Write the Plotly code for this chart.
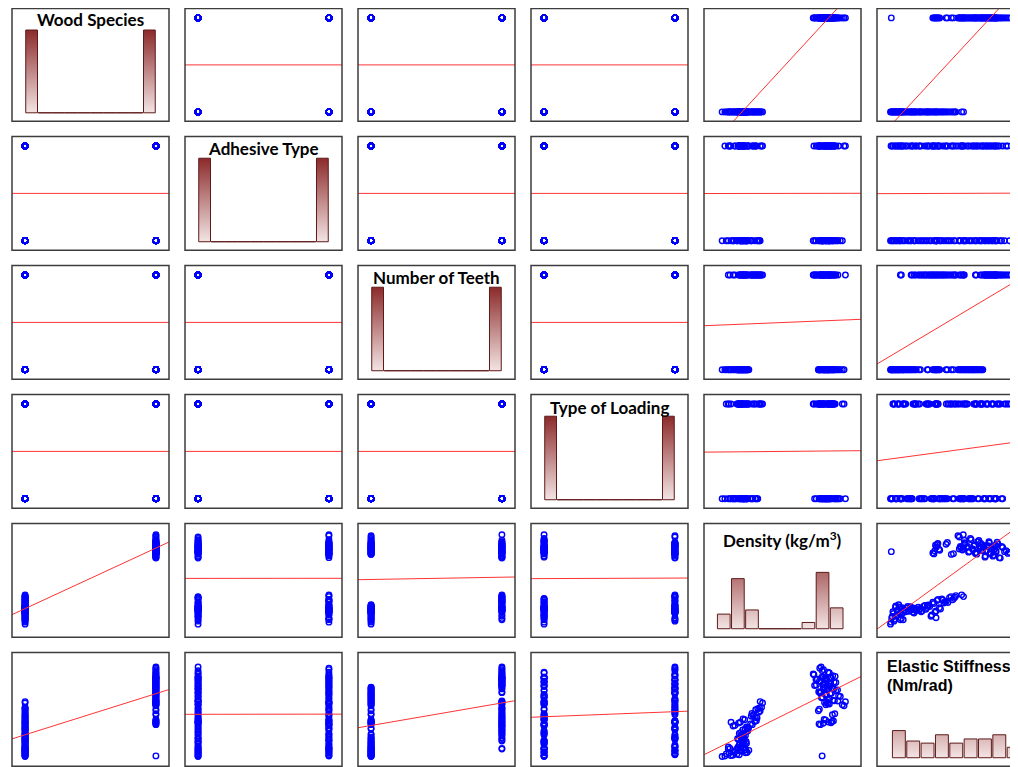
import numpy as np
import plotly.graph_objects as go

# ---------------- data ----------------
labels = ["Wood Species", "Adhesive Type", "Number of Teeth", "Type of Loading",
          "Density (kg/m<sup>3</sup>)", "Elastic Stiffness"]

wood_species = [0, 0, 0, 0, 0, 0, 0, 0, 0, 0, 0, 0, 0, 0, 0, 0, 0, 0, 0, 0,
                0, 0, 0, 0, 0, 0, 0, 0, 0, 0, 0, 0, 0, 0, 0, 0, 0, 0, 0, 0,
                1, 1, 1, 1, 1, 1, 1, 1, 1, 1, 1, 1, 1, 1, 1, 1, 1, 1, 1, 1,
                1, 1, 1, 1, 1, 1, 1, 1, 1, 1, 1, 1, 1, 1, 1, 1, 1, 1, 1, 1,
                0, 0, 0, 0, 0, 0, 0, 0, 0, 0, 0, 0, 0, 0, 0, 0, 0, 0, 0, 0,
                0, 0, 0, 0, 0, 0, 0, 0, 0, 0, 0, 0, 0, 0, 0, 0, 0, 0, 0, 0,
                1, 1, 1, 1, 1, 1, 1, 1, 1, 1, 1, 1, 1, 1, 1, 1, 1, 1, 1, 1,
                1, 1, 1, 1, 1, 1, 1, 1, 1, 1, 1, 1, 1, 1, 1, 1, 1, 1, 1, 1]

adhesive_type = [0, 1, 1, 0, 1, 0, 0, 1, 0, 1, 1, 0, 1, 0, 0, 1, 0, 1, 1, 0,
                 0, 1, 1, 0, 1, 0, 0, 1, 0, 1, 1, 0, 1, 0, 0, 1, 0, 1, 1, 0,
                 0, 1, 1, 0, 1, 0, 0, 1, 0, 1, 1, 0, 1, 0, 0, 1, 0, 1, 1, 0,
                 0, 1, 1, 0, 1, 0, 0, 1, 0, 1, 1, 0, 1, 0, 0, 1, 0, 1, 1, 0,
                 1, 0, 0, 1, 0, 1, 1, 0, 1, 0, 0, 1, 0, 1, 1, 0, 1, 0, 0, 1,
                 1, 0, 0, 1, 0, 1, 1, 0, 1, 0, 0, 1, 0, 1, 1, 0, 1, 0, 0, 1,
                 1, 0, 0, 1, 0, 1, 1, 0, 1, 0, 0, 1, 0, 1, 1, 0, 1, 0, 0, 1,
                 1, 0, 0, 1, 0, 1, 1, 0, 1, 0, 0, 1, 0, 1, 1, 0, 1, 0, 0, 1]

number_of_teeth = [0, 0, 0, 0, 0, 0, 0, 0, 0, 0, 0, 0, 0, 0, 0, 0, 0, 0, 0, 0,
                   1, 1, 1, 1, 1, 1, 1, 1, 1, 1, 1, 1, 1, 1, 1, 1, 1, 1, 1, 1,
                   0, 0, 0, 0, 0, 0, 0, 0, 0, 0, 0, 0, 0, 0, 0, 0, 0, 0, 0, 0,
                   1, 1, 1, 1, 1, 1, 1, 1, 1, 1, 1, 1, 1, 1, 1, 1, 1, 1, 1, 1,
                   0, 0, 0, 0, 0, 0, 0, 0, 0, 0, 0, 0, 0, 0, 0, 0, 0, 0, 0, 0,
                   1, 1, 1, 1, 1, 1, 1, 1, 1, 1, 1, 1, 1, 1, 1, 1, 1, 1, 1, 1,
                   0, 0, 0, 0, 0, 0, 0, 0, 0, 0, 0, 0, 0, 0, 0, 0, 0, 0, 0, 0,
                   1, 1, 1, 1, 1, 1, 1, 1, 1, 1, 1, 1, 1, 1, 1, 1, 1, 1, 1, 1]

type_of_loading = [0, 0, 1, 1, 0, 0, 1, 1, 0, 0, 1, 1, 0, 0, 0, 1, 1, 0, 1, 1,
                   0, 0, 1, 1, 0, 0, 1, 1, 0, 0, 1, 1, 0, 0, 0, 1, 1, 0, 1, 1,
                   0, 0, 1, 1, 0, 0, 1, 1, 0, 0, 1, 1, 0, 0, 0, 1, 1, 0, 1, 1,
                   0, 0, 1, 1, 0, 0, 1, 1, 0, 0, 1, 1, 0, 0, 0, 1, 1, 0, 1, 1,
                   0, 0, 1, 1, 0, 0, 1, 1, 0, 0, 1, 1, 0, 0, 0, 1, 1, 0, 1, 1,
                   0, 0, 1, 1, 0, 0, 1, 1, 0, 0, 1, 1, 0, 0, 0, 1, 1, 0, 1, 1,
                   0, 0, 1, 1, 0, 0, 1, 1, 0, 0, 1, 1, 0, 0, 0, 1, 1, 0, 1, 1,
                   0, 0, 1, 1, 0, 0, 1, 1, 0, 0, 1, 1, 0, 0, 0, 1, 1, 0, 1, 1]

density = [420, 445, 470, 432, 488, 455, 476, 498, 462, 481, 466, 478, 485, 472, 490, 468, 482, 476, 494, 446,
           438, 482, 475, 488, 470, 492, 480, 497, 452, 508, 468, 515, 486, 522, 505, 512, 527, 518, 535, 531,
           712, 703, 738, 741, 722, 742, 701, 776, 733, 719, 748, 728, 710, 765, 724, 735, 706, 752, 727, 716,
           723, 780, 705, 746, 731, 690, 714, 737, 752, 708, 726, 694, 719, 735, 711, 743, 686, 729, 716, 709,
           428, 451, 463, 440, 493, 458, 471, 489, 467, 486, 474, 470, 491, 479, 484, 465, 477, 483, 496, 438,
           443, 477, 484, 480, 474, 495, 487, 491, 457, 503, 473, 520, 481, 517, 510, 507, 531, 524, 529, 538,
           707, 715, 730, 745, 718, 749, 704, 771, 729, 725, 744, 733, 713, 760, 721, 739, 702, 757, 731, 720,
           728, 758, 709, 741, 736, 695, 717, 732, 747, 704, 721, 698, 724, 738, 715, 750, 688, 733, 712, 705]

stiffness = [1000, 1045, 1090, 1130, 1185, 1220, 1265, 1310, 1350, 1405, 1470, 1540, 1610, 1690, 1760, 1850, 1940, 2080, 2420, 2720,
             1373, 1820, 1950, 2050, 2160, 2260, 2340, 2450, 2530, 2600, 2680, 2760, 2850, 2940, 3020, 3110, 3230, 3350, 3470, 3760,
             1030, 2640, 2700, 2760, 2830, 3100, 3300, 3550, 3640, 3720, 3800, 3870, 3950, 4020, 4090, 4150, 4220, 4300, 4380, 4460,
             3600, 3750, 4210, 4400, 4520, 4570, 4610, 4660, 4720, 4770, 4820, 4870, 4920, 4960, 4990, 5060, 5150, 5240, 5370, 5500,
             1020, 1065, 1110, 1160, 1200, 1245, 1290, 1330, 1380, 1440, 1490, 1575, 1650, 1720, 1800, 1890, 1975, 2130, 2390, 1480,
             1410, 1780, 1900, 2100, 2200, 2300, 2380, 2480, 2560, 2640, 2720, 2800, 2890, 2970, 3060, 3170, 3290, 3400, 3440, 3690,
             2600, 2670, 2730, 2790, 2860, 3150, 3380, 3600, 3680, 3760, 3830, 3910, 3980, 4050, 4120, 4180, 4260, 4340, 4420, 4490,
             3650, 3790, 4240, 4450, 4540, 4590, 4640, 4690, 4740, 4790, 4840, 4890, 4940, 4975, 4985, 5030, 5110, 5200, 5310, 5440]

hist_bins = [10, 10, 10, 10, 9, 9]

variables = [np.array(v, dtype=float) for v in
             [wood_species, adhesive_type, number_of_teeth, type_of_loading, density, stiffness]]
binary = [True, True, True, True, False, False]

# ---------------- layout geometry (page body has an 8px margin) ----------------
W, H = 1010, 759
col_left = [4, 177, 350, 523, 696, 869]
cell_w = 157
row_top = [0.5, 128.5, 257.5, 386.5, 515.5, 644.5]
row_h = [112.8, 113.8, 113.8, 113.8, 113.8, 113.8]

scat_x_range = [[-0.1, 1.1]] * 4 + [[367, 825.5], [489, 5820]]
scat_y_range = [[-0.1, 1.1]] * 4 + [[367, 825.5], [507, 6229]]
diag_x_range = [[-0.1, 1.1]] * 4 + [[384, 829], [487.6, 5402]]
diag_y_range = [-8.2, 100.8]

fig = go.Figure()
layout = dict(width=W, height=H, margin=dict(l=0, r=0, t=0, b=0),
              paper_bgcolor="white", plot_bgcolor="white", showlegend=False)

shapes = []
annotations = []

for r in range(6):
    for c in range(6):
        n = r * 6 + c + 1
        xa = "x" if n == 1 else f"x{n}"
        ya = "y" if n == 1 else f"y{n}"
        xk = "xaxis" if n == 1 else f"xaxis{n}"
        yk = "yaxis" if n == 1 else f"yaxis{n}"
        x0 = col_left[c] / W
        x1 = min(col_left[c] + cell_w, W) / W
        y0 = max(0.0, 1 - (row_top[r] + row_h[r]) / H)
        y1 = min(1.0, 1 - row_top[r] / H)
        if r == c:
            xr = list(diag_x_range[c])
            yr = list(diag_y_range)
        else:
            xr = list(scat_x_range[c])
            yr = list(scat_y_range[r])
        layout[xk] = dict(domain=[x0, x1], range=xr, visible=False, anchor=ya, fixedrange=True)
        layout[yk] = dict(domain=[y0, y1], range=yr, visible=False, anchor=xa, fixedrange=True)

        shapes.append(dict(type="rect", xref="paper", yref="paper",
                           x0=col_left[c] / W, x1=(col_left[c] + cell_w) / W,
                           y0=1 - (row_top[r] + row_h[r]) / H, y1=1 - row_top[r] / H,
                           line=dict(color="#3d3d3d", width=1.5), fillcolor="rgba(0,0,0,0)",
                           layer="above"))

        if r == c:
            v = variables[c]
            rng = (0.0, 1.0) if binary[c] else (float(v.min()), float(v.max()))
            counts, edges = np.histogram(v, bins=hist_bins[c], range=rng)
            px, py = [], []
            for i, cnt in enumerate(counts):
                w = edges[i + 1] - edges[i]
                if cnt > 0:
                    left, right = edges[i] + 0.05 * w, edges[i + 1] - 0.05 * w
                else:
                    left, right = edges[i], edges[i + 1]
                px += [left, left, right, right, left, None]
                py += [0, cnt, cnt, 0, 0, None]
            fig.add_trace(go.Scatter(
                x=px, y=py, xaxis=xa, yaxis=ya, mode="lines", fill="toself",
                line=dict(color="#5e1a1a", width=1),
                fillgradient=dict(type="vertical", start=0, stop=80,
                                  colorscale=[[0, "#f3e4e4"], [1, "#8c2a2a"]]),
                hoverinfo="skip"))
        else:
            xv = variables[c]
            yv = variables[r]
            fig.add_trace(go.Scatter(
                x=xv, y=yv, xaxis=xa, yaxis=ya, mode="markers",
                marker=dict(symbol="circle-open", size=5.5, color="#0000ff",
                            line=dict(width=1.4, color="#0000ff")),
                hoverinfo="skip"))
            slope, intercept = np.polyfit(xv, yv, 1)
            lx = np.array(scat_x_range[c], dtype=float)
            fig.add_trace(go.Scatter(
                x=lx, y=slope * lx + intercept, xaxis=xa, yaxis=ya, mode="lines",
                line=dict(color="#ff3333", width=1), hoverinfo="skip"))

# diagonal titles (positions in page pixels minus the 8px body margin)
title_y = [11.5, 140.5, 270, 399, 531.5]
title_font = dict(family="Lato", size=17, color="black", weight="bold")
for i in range(5):
    annotations.append(dict(text=labels[i], xref="paper", yref="paper",
                            x=(col_left[i] + cell_w / 2) / W, y=1 - title_y[i] / H,
                            xanchor="center", yanchor="middle", showarrow=False,
                            font=title_font))
arial_bold = dict(family="Liberation Sans, Arial", size=16, color="black", weight="bold")
annotations.append(dict(text=labels[5], xref="paper", yref="paper",
                        x=877 / W, y=1 - 658.5 / H, xanchor="left", yanchor="middle",
                        showarrow=False, font=arial_bold))
annotations.append(dict(text="(Nm/rad)", xref="paper", yref="paper",
                        x=877 / W, y=1 - 677.5 / H, xanchor="left", yanchor="middle",
                        showarrow=False, font=arial_bold))

layout["shapes"] = shapes
layout["annotations"] = annotations
fig.update_layout(**layout)
fig.write_html("out.html")
